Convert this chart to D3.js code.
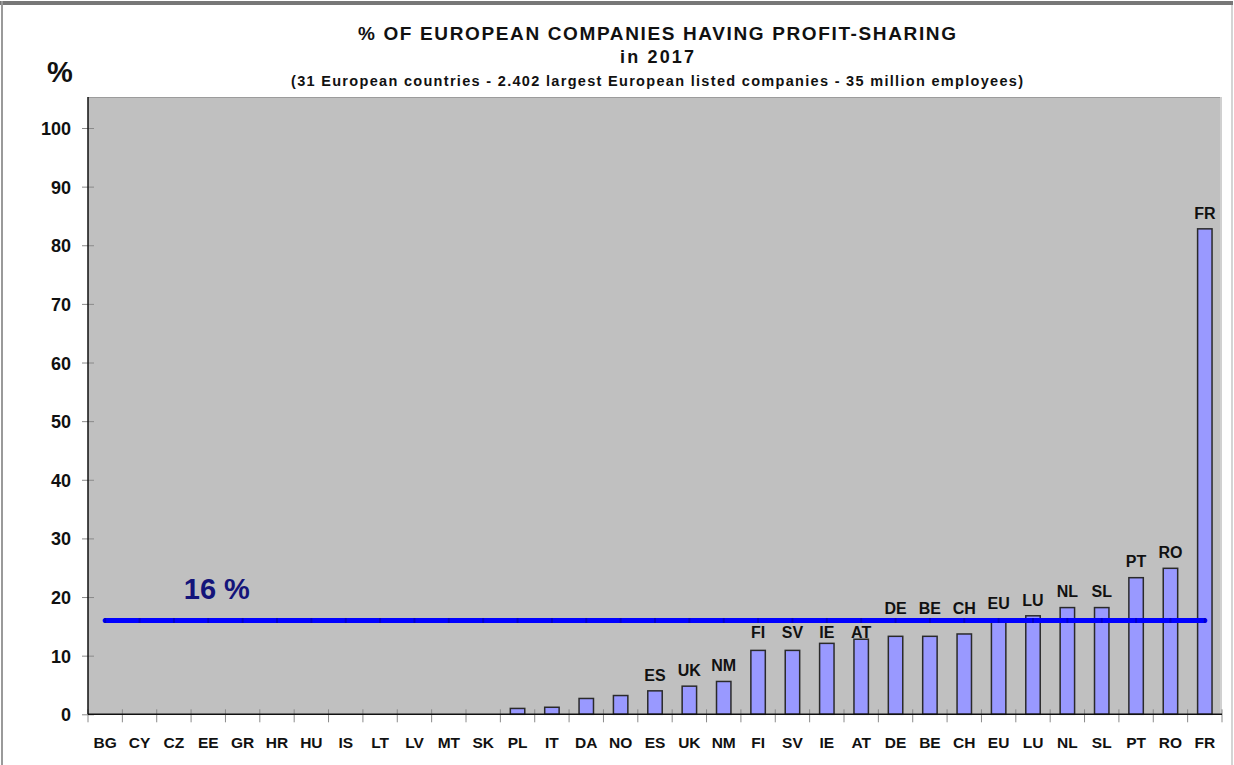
<!DOCTYPE html>
<html>
<head>
<meta charset="utf-8">
<script src="https://cdn.jsdelivr.net/npm/d3@7"></script>
<style>
  body { margin: 0; background: #fff; }
  text { font-family: "Liberation Sans", Arial, sans-serif; font-weight: bold; fill: #111; }
</style>
</head>
<body>
<div id="chart"></div>
<script>
'use strict'

// Data
const countries = ['BG', 'CY', 'CZ', 'EE', 'GR', 'HR', 'HU', 'IS', 'LT', 'LV', 'MT', 'SK',
  'PL', 'IT', 'DA', 'NO', 'ES', 'UK', 'NM', 'FI', 'SV', 'IE', 'AT', 'DE', 'BE', 'CH',
  'EU', 'LU', 'NL', 'SL', 'PT', 'RO', 'FR']
const shares = [0, 0, 0, 0, 0, 0, 0, 0, 0, 0, 0, 0,
  1.0, 1.2, 2.7, 3.2, 4.0, 4.8, 5.6, 10.9, 10.9, 12.1, 12.8, 13.3, 13.3, 13.7,
  16.2, 16.8, 18.2, 18.2, 23.3, 24.9, 82.8]
const average = 16
const yTicks = [0, 10, 20, 30, 40, 50, 60, 70, 80, 90, 100]
const titleLines = [
  '% OF EUROPEAN COMPANIES HAVING PROFIT-SHARING',
  'in 2017',
  '(31 European countries - 2.402 largest European listed companies - 35 million employees)'
]

// Canvas
const width = 1234,
  height = 765,
  plotLeft = 88,
  plotRight = 1222,
  plotTop = 97

const svg = d3.select('#chart')
  .append('svg')
  .attr('width', width)
  .attr('height', height)

// page frame
svg.append('rect').attr('x', 0).attr('y', 1).attr('width', 1233).attr('height', 4).attr('fill', '#777')
svg.append('rect').attr('x', 1).attr('y', 1).attr('width', 2).attr('height', 764).attr('fill', '#9a9a9a')
svg.append('rect').attr('x', 1231).attr('y', 5).attr('width', 2).attr('height', 760).attr('fill', '#d4d4d4')

const x = d3.scaleBand()
  .domain(countries)
  .range([plotLeft, plotRight])
  .paddingInner(0.58)
  .paddingOuter(0.29)

const y = d3.scaleLinear()
  .domain([0, 100])
  .range([714.3, 128])

const step = x.step()
const cx = (d) => x(d) + x.bandwidth() / 2

// plot area
svg.append('rect')
  .attr('x', plotLeft)
  .attr('y', plotTop)
  .attr('width', plotRight - plotLeft)
  .attr('height', y(0) - plotTop)
  .attr('fill', '#c0c0c0')
svg.append('line')
  .attr('x1', plotLeft).attr('x2', plotRight)
  .attr('y1', plotTop + 0.5).attr('y2', plotTop + 0.5)
  .attr('stroke', '#9c9c9c')
svg.append('line')
  .attr('x1', plotRight - 1).attr('x2', plotRight - 1)
  .attr('y1', plotTop).attr('y2', y(0))
  .attr('stroke', '#d0d0d0').attr('stroke-width', 2)

// y axis
const axisLeft = d3.axisLeft(y).tickValues(yTicks).tickSize(0).tickPadding(0)
const gy = svg.append('g')
  .attr('transform', `translate(${plotLeft}, 0)`)
  .call(axisLeft)
gy.select('.domain').remove()
gy.selectAll('.tick text')
  .attr('x', -17)
  .attr('dy', '0.36em')
  .style('font-size', '18px')
  .style('font-family', '"Liberation Sans", Arial, sans-serif')
  .attr('fill', '#111')
gy.selectAll('.tick').append('line')
  .attr('x1', -6).attr('x2', 6)
  .attr('stroke', '#8a8a8a')

// bars
svg.selectAll('rect.bar')
  .data(shares)
  .enter()
  .append('rect')
  .attr('class', 'bar')
  .attr('x', (d, i) => x(countries[i]))
  .attr('y', (d) => y(d))
  .attr('width', x.bandwidth())
  .attr('height', (d) => y(0) - y(d))
  .attr('fill', '#9999ff')
  .attr('stroke', '#2a2a2a')
  .attr('stroke-width', 1.5)
  .style('display', (d) => d > 0 ? null : 'none')

// x axis
const axisBottom = d3.axisBottom(x).tickSize(0).tickPadding(0)
const gx = svg.append('g')
  .attr('transform', `translate(0, ${y(0)})`)
  .call(axisBottom)
gx.select('.domain').remove()
gx.selectAll('.tick text')
  .attr('y', 33.5)
  .attr('dy', 0)
  .style('font-size', '15.5px')
  .style('font-family', '"Liberation Sans", Arial, sans-serif')
  .attr('fill', '#111')
gx.selectAll('.tick line').remove()
gx.selectAll('line.sep')
  .data(d3.range(countries.length + 1))
  .enter()
  .append('line')
  .attr('class', 'sep')
  .attr('x1', (i) => plotLeft + i * step)
  .attr('x2', (i) => plotLeft + i * step)
  .attr('y1', -5).attr('y2', 8)
  .attr('stroke', '#8a8a8a')

// axis lines
svg.append('line')
  .attr('x1', plotLeft).attr('x2', plotLeft)
  .attr('y1', plotTop).attr('y2', y(0))
  .attr('stroke', '#111').attr('stroke-width', 1.5)
svg.append('line')
  .attr('x1', plotLeft).attr('x2', plotRight)
  .attr('y1', y(0)).attr('y2', y(0))
  .attr('stroke', '#111').attr('stroke-width', 1.5)

// average line
const lineY = y(average)
const avgLine = d3.line()
  .x((d) => cx(d))
  .y(() => y(average))
svg.append('path')
  .datum(countries)
  .attr('d', avgLine)
  .attr('fill', 'none')
  .attr('stroke', '#0000ff')
  .attr('stroke-width', 5)
  .attr('stroke-linecap', 'round')
svg.selectAll('rect.mark')
  .data(countries)
  .enter()
  .append('rect')
  .attr('class', 'mark')
  .attr('x', (d) => cx(d) - 1)
  .attr('y', lineY - 2.5)
  .attr('width', 2)
  .attr('height', 5)
  .attr('fill', '#0000c8')

svg.append('text')
  .attr('x', cx(countries[3]) + step * 0.25)
  .attr('y', lineY - 21)
  .attr('text-anchor', 'middle')
  .style('font-size', '29px')
  .style('fill', '#14147a')
  .text(average + ' %')

// bar labels
svg.selectAll('text.blabel')
  .data(shares)
  .enter()
  .append('text')
  .attr('class', 'blabel')
  .attr('text-anchor', 'middle')
  .style('font-size', '16px')
  .each(function (d, i) {
    if (d < 3.5) return
    const top = y(d)
    let c = top - 16
    if (Math.abs(c - lineY) < 14) {
      c = (top - lineY > 18) ? lineY + 12 : lineY - 12
    }
    d3.select(this)
      .attr('x', cx(countries[i]))
      .attr('y', c + 5.7)
      .text(countries[i])
  })

// titles
const titleSpec = [
  { y: 40, size: 19, len: 598 },
  { y: 63, size: 18, len: 74 },
  { y: 86, size: 14.5, len: 732 }
]
titleLines.forEach((t, i) => {
  svg.append('text')
    .attr('x', 657)
    .attr('y', titleSpec[i].y)
    .attr('text-anchor', 'middle')
    .attr('textLength', titleSpec[i].len)
    .attr('lengthAdjust', 'spacing')
    .style('font-size', titleSpec[i].size + 'px')
    .text(t)
})

svg.append('text')
  .attr('x', 60)
  .attr('y', 82)
  .attr('text-anchor', 'middle')
  .style('font-size', '29px')
  .text('%')
</script>
</body>
</html>
